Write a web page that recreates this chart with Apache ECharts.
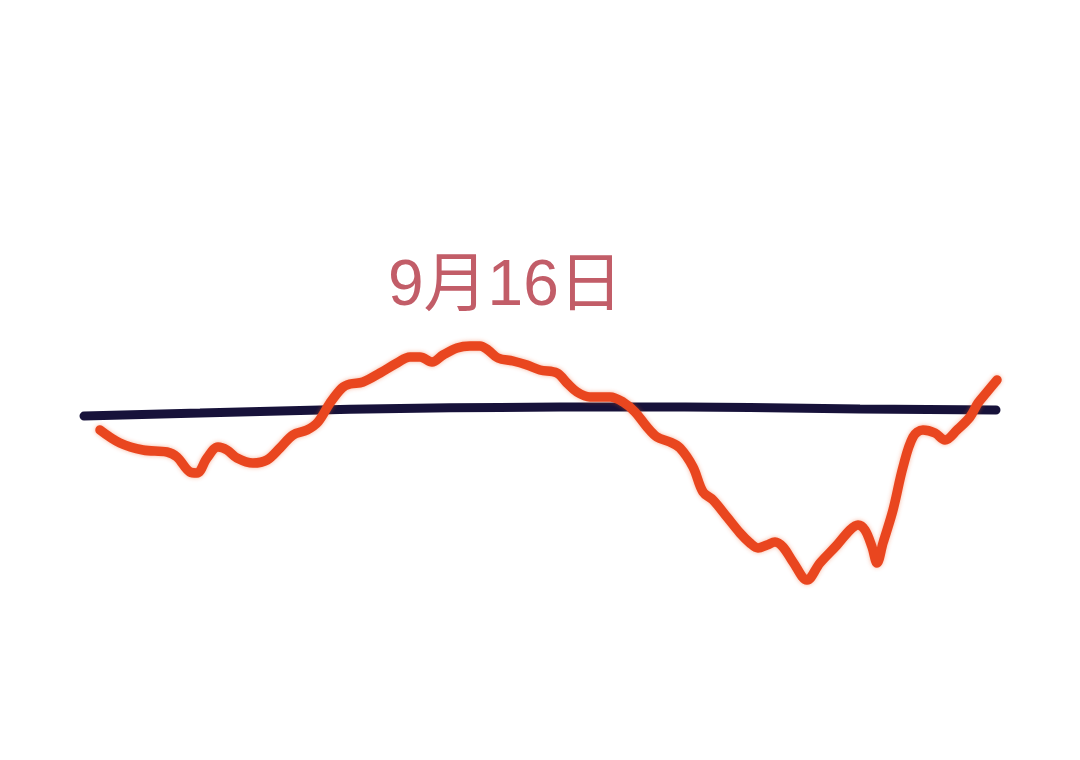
<!DOCTYPE html>
<html>
<head>
<meta charset="utf-8">
<script src="https://cdn.jsdelivr.net/npm/echarts@6/dist/echarts.min.js"></script>
<style>
html,body{margin:0;padding:0;background:#fff;}
#chart{width:1080px;height:760px;}
</style>
</head>
<body>
<div id="chart"></div>
<script>
// x position (horizontal units), level (vertical units, higher = up)
const priceX = [100,120,143,167,177,190,197,207,218,227,237,253,267,280,293,307,318,330,342,350,363,380,397,410,420,432,443,457,470,480,488,498,513,527,540,557,567,577,590,610,623,635,647,657,670,680,693,703,713,727,740,750,758,767,775,783,793,807,820,837,850,858,865,872,877,883,893,903,913,923,935,945,957,970,978,987,997];
const priceLevel = [330,317,310,308,303,288,287,302,313,310,302,297,300,312,325,330,338,357,372,376,378,387,397,403,403,398,405,412,414,414,410,402,399,395,390,387,377,368,363,363,358,348,333,323,318,312,293,268,260,243,227,217,212,215,218,213,198,180,197,215,230,235,230,213,197,217,250,293,323,330,327,320,330,343,357,368,380];
const avgX = [84,200,300,400,500,620,750,860,996];
const avgLevel = [344,347,349.5,351.5,352.5,353,352.5,351,350];
const labelText = "9月16日";

const chart = echarts.init(document.getElementById('chart'));
const pricePts = priceX.map((x,i)=>[x,priceLevel[i]]);
const avgPts = avgX.map((x,i)=>[x,avgLevel[i]]);
chart.setOption({
  backgroundColor:'#ffffff',
  animation:false,
  grid:{left:0,right:0,top:0,bottom:0},
  xAxis:{type:'value',min:0,max:1080,show:false},
  yAxis:{type:'value',min:0,max:760,show:false},
  series:[
    {type:'line',data:avgPts,smooth:0.5,symbol:'none',
     lineStyle:{color:'#17123a',width:9,cap:'round'},z:2},
    {type:'line',data:pricePts,smooth:0.35,symbol:'none',
     lineStyle:{color:'#e9461f',width:9.5,cap:'round',join:'round',shadowBlur:4,shadowColor:'rgba(240,90,40,0.45)'},z:3}
  ],
  graphic:[{
    type:'text',left:388,top:255,
    style:{text:labelText,fill:'#c25d68',font:'400 64px "Liberation Sans", "Noto Sans CJK SC", sans-serif'}
  }]
});
</script>
</body>
</html>
